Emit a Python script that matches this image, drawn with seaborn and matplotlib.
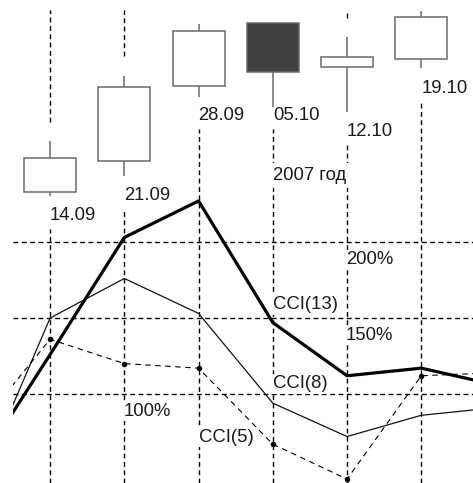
import matplotlib
matplotlib.use("Agg")
import matplotlib.pyplot as plt
import seaborn as sns
import numpy as np

# weekly candles, Sept-Oct 2007
dates = ["14.09", "21.09", "28.09", "05.10", "12.10", "19.10"]
opens = [1933, 1958, 2018, 2068, 2033, 2039]
highs = [1974, 2026, 2067, 2068, 2057, 2078]
lows = [1930, 1946, 2009, 2001, 1997, 2032]
closes = [1960, 2017, 2062, 2029, 2041, 2073]

# CCI in %, incl. one week before / after the shown range (clipped)
cci_weeks = [-1, 0, 1, 2, 3, 4, 5, 6]
cci13 = [50, 126, 203, 227, 147, 112, 117, 106]
cci8 = [36, 150, 176, 153, 94, 72, 86, 91]
cci5 = [76, 136, 120, 117, 67, 44, 112, 114]
levels = [100, 150, 200]
level_labels = ["100%", "150%", "200%"]
level_label_x = [1, 4, 4]

sns.set_style("white")
plt.rcParams['font.family'] = ['Liberation Sans', 'DejaVu Sans']
FS = 13.3
TXT = '#1a1a1a'
GRID = dict(colors='black', linestyles=(0, (3.5, 2.5)), lw=1.0, zorder=1)

fig = plt.figure(figsize=(4.73, 4.83), dpi=100)
ax = fig.add_axes([13 / 473, 0, 460 / 473, 1])
ax2 = ax.twinx()
ax.set_xlim(-0.5, 5.697)
ax.set_ylim(41.45, 359.2)
ax2.set_ylim(1700, 2086.4)
for a in (ax, ax2):
    a.axis('off')

x = np.arange(len(dates))
pp = (2086.4 - 1700) / 483  # price units per pixel
PT = 0.72  # points per pixel


def price_to_cci(p):
    return ax.transData.inverted().transform(ax2.transData.transform((0, p)))[1]


# horizontal grid
ax.hlines(levels, -0.5, 5.697, **GRID)

# vertical grid, broken around candles and date labels
date_off_px = [11, 12, 10, 0, 11, 12]
p_top = 2086.4 - 10 * pp
for i in x:
    lab_bottom = lows[i] - (date_off_px[i] + 22) * pp
    ax.vlines(i, 41.45, price_to_cci(lab_bottom), **GRID)
    if highs[i] + 19 * pp < p_top - 3 * pp:
        ax.vlines(i, price_to_cci(highs[i] + 19 * pp), price_to_cci(p_top), **GRID)

# CCI lines
sns.lineplot(x=cci_weeks, y=cci13, ax=ax, color='black', lw=2.3, zorder=4)
sns.lineplot(x=cci_weeks, y=cci8, ax=ax, color='#111111', lw=0.9, zorder=4)
sns.lineplot(x=cci_weeks, y=cci5, ax=ax, color='black', lw=0.8,
             linestyle=(0, (5, 4)), marker='o', markersize=4,
             markeredgewidth=0, zorder=4)

box = dict(facecolor='white', edgecolor='none', pad=1)
for lev, lab, lx in zip(levels, level_labels, level_label_x):
    ax.annotate(lab, (lx, lev), xytext=(-1 * PT, -9 * PT), textcoords='offset points',
                ha='left', va='top', fontsize=FS, color=TXT, bbox=box, zorder=6)
ax.text(3, 158.6, "CCI(13)", ha='left', va='center', fontsize=FS, color=TXT, bbox=box, zorder=6)
ax.text(3, 106.6, "CCI(8)", ha='left', va='center', fontsize=FS, color=TXT, bbox=box, zorder=6)
ax.text(2, 71.7, "CCI(5)", ha='left', va='center', fontsize=FS, color=TXT, bbox=box, zorder=6)

# candles
o = np.array(opens)
c = np.array(closes)
body_lo = np.minimum(o, c)
body_hi = np.maximum(o, c)
edge = '#6a6a6a'
ax2.vlines(x, lows, body_lo, colors=edge, lw=1.1, zorder=2)
ax2.vlines(x, body_hi, highs, colors=edge, lw=1.1, zorder=2)
fills = ['white' if cc >= oo else '#404040' for oo, cc in zip(opens, closes)]
ax2.bar(x, body_hi - body_lo, bottom=body_lo, width=0.7, color=fills,
        edgecolor=edge, lw=1.1, zorder=3)

for i, d in enumerate(dates):
    ax2.annotate(d, (i, lows[i]), xytext=(0, -date_off_px[i] * PT), textcoords='offset points',
                 ha='left', va='top', fontsize=FS, color=TXT, zorder=5)
ax2.annotate("2007 год", (3, lows[3]), xytext=(0, -60 * PT), textcoords='offset points',
             ha='left', va='top', fontsize=FS, color=TXT,
             bbox=dict(facecolor='white', edgecolor='none', pad=3), zorder=5)

fig.savefig("out.png", dpi=100)
